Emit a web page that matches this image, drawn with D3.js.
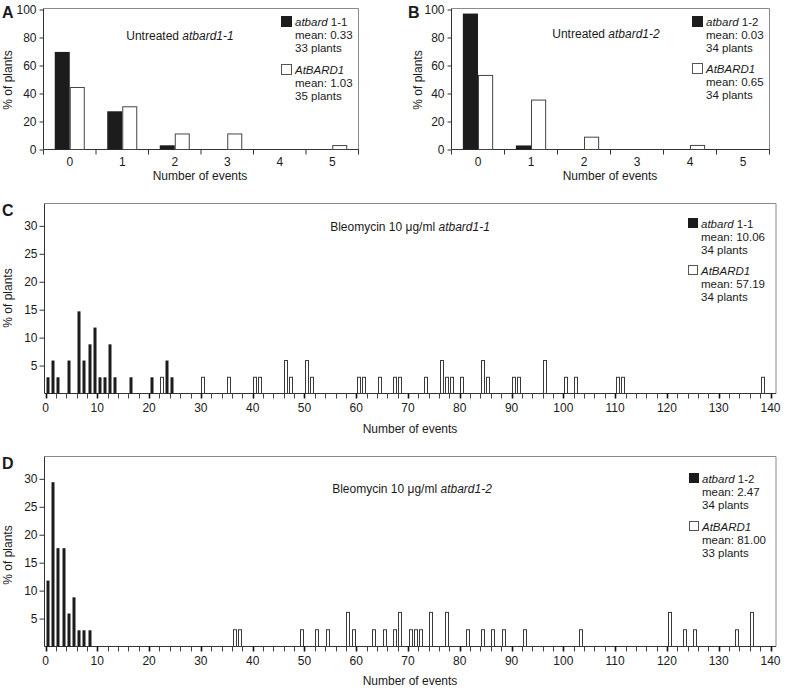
<!DOCTYPE html>
<html><head><meta charset="utf-8">
<script src="https://cdn.jsdelivr.net/npm/d3@7"></script>
<style>
body{margin:0;background:#fff;}
svg text{font-family:"Liberation Sans",Arial,Helvetica,sans-serif;fill:#1a1a1a;}
</style></head><body>
<svg id="chart" width="787" height="691"></svg>
<script>
// ---------- Data: panels A and B (untreated) ----------
const eventCats = [0, 1, 2, 3, 4, 5];
const aMutantPct = [69.7, 27.3, 3.0, 0, 0, 0];
const aWildPct   = [44.3, 30.5, 11.1, 11.1, 0, 2.8];
const bMutantPct = [97.1, 2.9, 0, 0, 0, 0];
const bWildPct   = [52.9, 35.3, 8.8, 0, 2.9, 0];
const yTicksAB   = [0, 20, 40, 60, 80, 100];

// ---------- Data: panels C and D (bleomycin) ----------
const cMutantEvents = [0, 1, 2, 4, 6, 7, 8, 9, 10, 11, 12, 13, 16, 20, 23, 24];
const cMutantPct    = [2.9, 5.9, 2.9, 5.9, 14.7, 5.9, 8.8, 11.8, 2.9, 2.9, 8.8, 2.9, 2.9, 2.9, 5.9, 2.9];
const cWildEvents   = [22, 30, 35, 40, 41, 46, 47, 50, 51, 60, 61, 64, 67, 68, 73, 76, 77, 78, 80, 84, 85, 90, 91, 96, 100, 102, 110, 111, 138];
const cWildPct      = [2.9, 2.9, 2.9, 2.9, 2.9, 5.9, 2.9, 5.9, 2.9, 2.9, 2.9, 2.9, 2.9, 2.9, 2.9, 5.9, 2.9, 2.9, 2.9, 5.9, 2.9, 2.9, 2.9, 5.9, 2.9, 2.9, 2.9, 2.9, 2.9];
const dMutantEvents = [0, 1, 2, 3, 4, 5, 6, 7, 8];
const dMutantPct    = [11.8, 29.4, 17.6, 17.6, 5.9, 8.8, 2.9, 2.9, 2.9];
const dWildEvents   = [36, 37, 49, 52, 54, 58, 59, 63, 65, 67, 68, 70, 71, 72, 74, 77, 81, 84, 86, 88, 92, 103, 120, 123, 125, 133, 136];
const dWildPct      = [3.0, 3.0, 3.0, 3.0, 3.0, 6.1, 3.0, 3.0, 3.0, 3.0, 6.1, 3.0, 3.0, 3.0, 6.1, 6.1, 3.0, 3.0, 3.0, 3.0, 3.0, 3.0, 6.1, 3.0, 3.0, 3.0, 6.1];
const yTicksCD      = [5, 10, 15, 20, 25, 30];
const xMajorCD      = d3.range(0, 141, 10);
const xMinorCD      = d3.range(0, 141, 2);

// ---------- Texts ----------
const panelLabels = ["A", "B", "C", "D"];
const titles = [
  ["Untreated ", "atbard1-1"],
  ["Untreated ", "atbard1-2"],
  ["Bleomycin 10 \u03BCg/ml ", "atbard1-1"],
  ["Bleomycin 10 \u03BCg/ml ", "atbard1-2"]
];
const legends = [
  [["atbard", " 1-1", "mean: 0.33", "33 plants"], ["AtBARD1", "", "mean: 1.03", "35 plants"]],
  [["atbard", " 1-2", "mean: 0.03", "34 plants"], ["AtBARD1", "", "mean: 0.65", "34 plants"]],
  [["atbard", " 1-1", "mean: 10.06", "34 plants"], ["AtBARD1", "", "mean: 57.19", "34 plants"]],
  [["atbard", " 1-2", "mean: 2.47", "34 plants"], ["AtBARD1", "", "mean: 81.00", "33 plants"]]
];
const yLabel = "% of plants";
const xLabel = "Number of events";

const svg = d3.select("#chart");
const BLACK = "#1c1c1c";
const FRAME = "#8a8a8a";

function frame(g, L, R, T, B) {
  g.append("path").attr("d", `M${L},${T}H${R}V${B}`)
    .attr("fill", "none").attr("stroke", FRAME).attr("stroke-width", 1);
  g.append("line").attr("x1", L).attr("x2", L).attr("y1", T).attr("y2", B)
    .attr("stroke", "#333").attr("stroke-width", 1);
  g.append("line").attr("x1", L).attr("x2", R).attr("y1", B).attr("y2", B)
    .attr("stroke", "#333").attr("stroke-width", 1);
}

function texts(g, idx, cfg) {
  g.append("text").attr("x", cfg.labX).attr("y", cfg.labY)
    .attr("font-size", 16).attr("font-weight", "bold").text(panelLabels[idx]);
  const t = g.append("text").attr("x", cfg.titleX).attr("y", cfg.titleY)
    .attr("text-anchor", "middle").attr("font-size", 12);
  t.append("tspan").text(titles[idx][0]);
  t.append("tspan").attr("font-style", "italic").text(titles[idx][1]);
  g.append("text").attr("transform", `translate(${cfg.ylabX},${cfg.ylabY}) rotate(-90)`)
    .attr("text-anchor", "middle").attr("font-size", 12).text(yLabel);
  g.append("text").attr("x", cfg.xlabX).attr("y", cfg.xlabY)
    .attr("text-anchor", "middle").attr("font-size", 12).text(xLabel);
  // legend
  legends[idx].forEach((entry, j) => {
    const y0 = cfg.legY + j * cfg.legGap;
    g.append("rect").attr("x", cfg.legX + 0.5).attr("y", y0 - 9.5)
      .attr("width", cfg.sq).attr("height", cfg.sq)
      .attr("fill", j === 0 ? BLACK : "#fff")
      .attr("stroke", j === 0 ? BLACK : "#555").attr("stroke-width", 1);
    const tx = cfg.legX + cfg.sq + 4;
    const l1 = g.append("text").attr("x", tx).attr("y", y0).attr("font-size", 11.5);
    l1.append("tspan").attr("font-style", "italic").text(entry[0]);
    if (entry[1]) l1.append("tspan").text(entry[1]);
    g.append("text").attr("x", tx).attr("y", y0 + cfg.lh).attr("font-size", 11.5).text(entry[2]);
    g.append("text").attr("x", tx).attr("y", y0 + 2 * cfg.lh).attr("font-size", 11.5).text(entry[3]);
  });
}

function categoryPanel(idx, mutant, wild, L, R, T, B, cfg) {
  const g = svg.append("g");
  const x = d3.scaleBand().domain(eventCats).range([L, R]).paddingInner(0).paddingOuter(0);
  const sub = d3.scaleBand().domain(["m", "w"]).range([0, x.bandwidth()]).paddingInner(0).paddingOuter(0.75);
  const y = d3.scaleLinear().domain([0, 100]).range([B, T + 1]);
  frame(g, L, R, T, B);
  g.selectAll(".m").data(eventCats.filter((c, i) => mutant[i] > 0)).join("rect")
    .attr("x", c => x(c) + sub("m")).attr("width", sub.bandwidth())
    .attr("y", c => y(mutant[c])).attr("height", c => B - y(mutant[c]))
    .attr("fill", BLACK);
  g.selectAll(".w").data(eventCats.filter((c, i) => wild[i] > 0)).join("rect")
    .attr("x", c => x(c) + sub("w") + 0.5).attr("width", sub.bandwidth() - 1)
    .attr("y", c => y(wild[c])).attr("height", c => B - y(wild[c]))
    .attr("fill", "#fff").attr("stroke", "#444").attr("stroke-width", 1);
  const ya = g.append("g").attr("transform", `translate(${L},0)`)
    .call(d3.axisLeft(y).tickValues(yTicksAB).tickSize(4).tickSizeOuter(0).tickPadding(3));
  ya.select(".domain").remove();
  ya.selectAll("text").attr("font-size", 12).style("font-family", "Liberation Sans, Arial, sans-serif").attr("fill", "#1a1a1a");
  ya.selectAll("line").attr("stroke", "#333");
  const bounds = eventCats.map(c => x(c)).concat([R]);
  g.selectAll(".xt").data(bounds).join("line")
    .attr("x1", d => d).attr("x2", d => d).attr("y1", B).attr("y2", B + 5)
    .attr("stroke", "#333");
  g.selectAll(".xl").data(eventCats).join("text")
    .attr("x", c => x(c) + x.bandwidth() / 2).attr("y", B + 16)
    .attr("text-anchor", "middle").attr("font-size", 12).text(c => c);
  texts(g, idx, cfg);
}

function histPanel(idx, mEv, mPct, wEv, wPct, T, B, cfg) {
  const g = svg.append("g");
  const L = 44.5, R = 776;
  const x = d3.scaleLinear().domain([0, 140]).range([45.5, 770.5]);
  const y = d3.scaleLinear().domain([0, 34]).range([B, T]);
  frame(g, L, R, T, B);
  const halfUnit = 0.5;
  g.selectAll(".w").data(wEv).join("rect")
    .attr("x", (d) => Math.round(x(d + halfUnit)) - 1.5).attr("width", 3)
    .attr("y", (d, i) => y(wPct[i])).attr("height", (d, i) => B - y(wPct[i]))
    .attr("fill", "#fff").attr("stroke", "#3a3a3a").attr("stroke-width", 1);
  g.selectAll(".m").data(mEv).join("rect")
    .attr("x", (d) => Math.round(x(d + halfUnit)) - 1.5).attr("width", 3)
    .attr("y", (d, i) => y(mPct[i])).attr("height", (d, i) => B - y(mPct[i]))
    .attr("fill", BLACK);
  const ya = g.append("g").attr("transform", `translate(${L},0)`)
    .call(d3.axisLeft(y).tickValues(yTicksCD).tickSize(5).tickSizeOuter(0).tickPadding(2));
  ya.select(".domain").remove();
  ya.selectAll("text").attr("font-size", 12).style("font-family", "Liberation Sans, Arial, sans-serif").attr("fill", "#1a1a1a");
  ya.selectAll("line").attr("stroke", "#333");
  g.selectAll(".mi").data(xMinorCD.filter(v => v % 10 !== 0)).join("line")
    .attr("x1", d => Math.round(x(d)) + 0.5).attr("x2", d => Math.round(x(d)) + 0.5)
    .attr("y1", B).attr("y2", B + 5).attr("stroke", "#444");
  g.selectAll(".ma").data(xMajorCD).join("line")
    .attr("x1", d => Math.round(x(d)) + 0.5).attr("x2", d => Math.round(x(d)) + 0.5)
    .attr("y1", B).attr("y2", B + 5).attr("stroke", "#111").attr("stroke-width", 1.6);
  g.selectAll(".xl").data(xMajorCD).join("text")
    .attr("x", d => x(d)).attr("y", B + 18)
    .attr("text-anchor", "middle").attr("font-size", 12).text(d => d);
  texts(g, idx, cfg);
}

categoryPanel(0, aMutantPct, aWildPct, 43.5, 358.5, 8.5, 149.5, {
  labX: 2, labY: 18, titleX: 180, titleY: 40, ylabX: 12, ylabY: 80, xlabX: 200, xlabY: 180,
  legX: 281, legY: 26, legGap: 48, sq: 10, lh: 13.2
});
categoryPanel(1, bMutantPct, bWildPct, 451.5, 769.5, 8.5, 149.5, {
  labX: 408, labY: 18, titleX: 606, titleY: 38, ylabX: 422, ylabY: 80, xlabX: 610, xlabY: 180,
  legX: 692, legY: 26, legGap: 47, sq: 10, lh: 13.2
});
histPanel(2, cMutantEvents, cMutantPct, cWildEvents, cWildPct, 203.5, 393.5, {
  labX: 2, labY: 216, titleX: 410, titleY: 231, ylabX: 12, ylabY: 298, xlabX: 410, xlabY: 433,
  legX: 688, legY: 228, legGap: 47, sq: 9, lh: 13.2
});
histPanel(3, dMutantEvents, dMutantPct, dWildEvents, dWildPct, 456.5, 646.5, {
  labX: 2, labY: 469, titleX: 412, titleY: 493, ylabX: 12, ylabY: 555, xlabX: 410, xlabY: 685,
  legX: 689, legY: 483, legGap: 48, sq: 9, lh: 13.2
});
</script>
</body></html>
